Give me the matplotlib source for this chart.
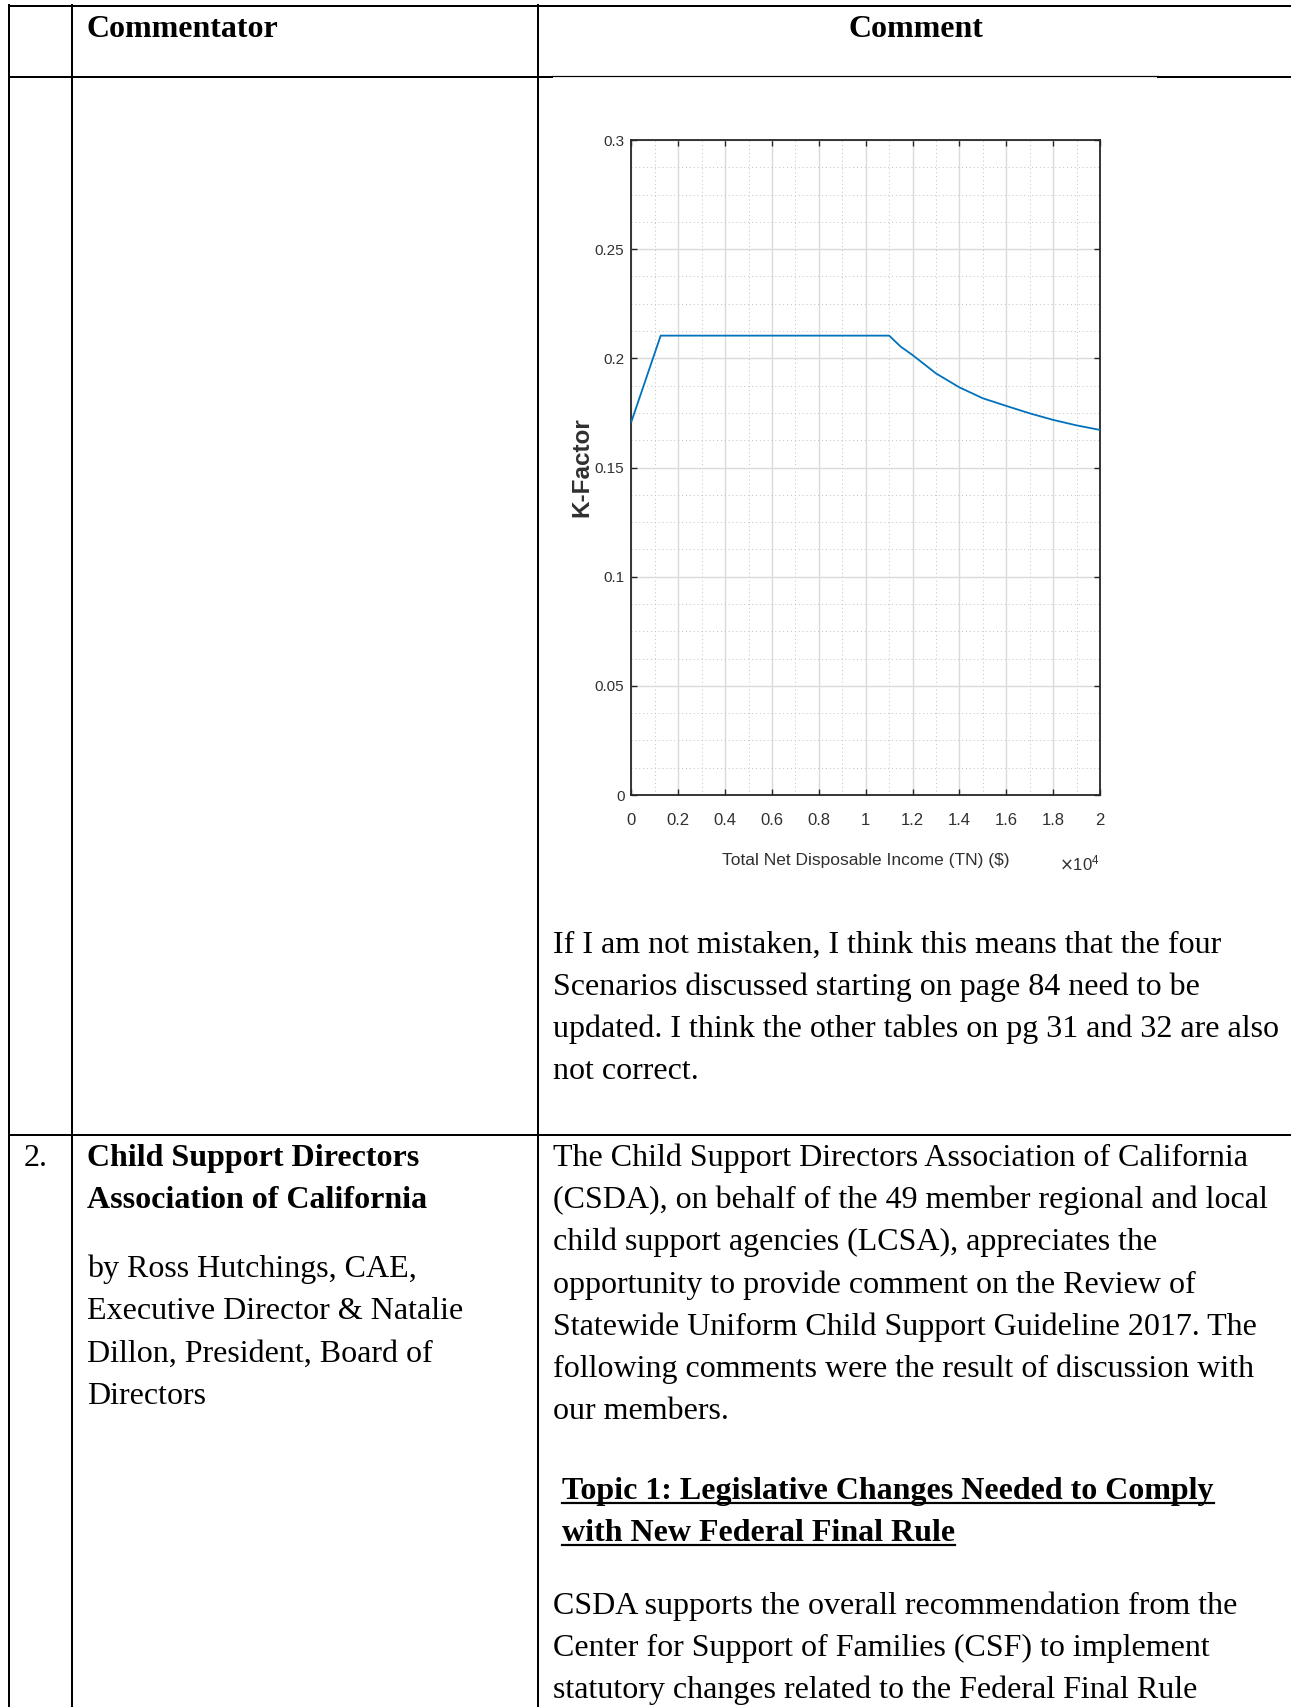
import numpy as np
import matplotlib.pyplot as plt
from matplotlib.ticker import MultipleLocator, FixedLocator, FixedFormatter

# ---- chart data (K-factor vs total net disposable income) ----
income = [0, 1250, 11000, 11500, 12000, 13000, 14000, 15000, 16000, 17000, 18000, 19000, 20000]
kfactor = [0.171, 0.2104, 0.2104, 0.2053, 0.2015, 0.1931, 0.1867, 0.1817, 0.1782, 0.1748, 0.1718, 0.1693, 0.1672]
xticks = [0, 2000, 4000, 6000, 8000, 10000, 12000, 14000, 16000, 18000, 20000]
xticklabels = ['0', '0.2', '0.4', '0.6', '0.8', '1', '1.2', '1.4', '1.6', '1.8', '2']
yticks = [0, 0.05, 0.1, 0.15, 0.2, 0.25, 0.3]
yticklabels = ['0', '0.05', '0.1', '0.15', '0.2', '0.25', '0.3']

# ---- document text ----
header_left = 'Commentator'
header_right = 'Comment'
para1 = ['If I am not mistaken, I think this means that the four',
         'Scenarios discussed starting on page 84 need to be',
         'updated. I think the other tables on pg 31 and 32 are also',
         'not correct.']
row_num = '2.'
org_lines = ['Child Support Directors', 'Association of California']
by_lines = ['by Ross Hutchings, CAE,', 'Executive Director & Natalie',
            'Dillon, President, Board of', 'Directors']
para2 = ['The Child Support Directors Association of California',
         '(CSDA), on behalf of the 49 member regional and local',
         'child support agencies (LCSA), appreciates the',
         'opportunity to provide comment on the Review of',
         'Statewide Uniform Child Support Guideline 2017. The',
         'following comments were the result of discussion with',
         'our members.']
topic_lines = ['Topic 1: Legislative Changes Needed to Comply',
               'with New Federal Final Rule']
para3 = ['CSDA supports the overall recommendation from the',
         'Center for Support of Families (CSF) to implement',
         'statutory changes related to the Federal Final Rule']

W, H = 1291, 1707
fig = plt.figure(figsize=(W / 100, H / 100), dpi=100)
fig.patch.set_facecolor('white')

# page layer in pixel coordinates
pg = fig.add_axes([0, 0, 1, 1])
pg.set_xlim(0, W)
pg.set_ylim(H, 0)
pg.axis('off')

serif = 'Liberation Serif'
fs = 23
thick = 2.0 * 0.72
thin = 1.2 * 0.72

# table rules
pg.plot([9, W], [6, 6], color='black', lw=thick)
pg.plot([9, 552], [77, 77], color='black', lw=thick)
pg.plot([552, 1158], [76, 76], color='black', lw=thin)
pg.plot([1158, W], [77, 77], color='black', lw=thick)
pg.plot([9, W], [1135, 1135], color='black', lw=thick)
for xv in [9, 72, 538]:
    pg.plot([xv, xv], [5, H], color='black', lw=thick)

# header
pg.text(87, 37, header_left, family=serif, fontsize=fs, fontweight='bold', va='baseline')
pg.text(849, 37, header_right, family=serif, fontsize=fs, fontweight='bold', va='baseline')

# row 1 text under the chart
for i, s in enumerate(para1):
    pg.text(553, 953 + 42 * i, s, family=serif, fontsize=fs, va='baseline')

# row 2, left
pg.text(24, 1166, row_num, family=serif, fontsize=fs, va='baseline')
for i, s in enumerate(org_lines):
    pg.text(87, 1166 + 42.2 * i, s, family=serif, fontsize=fs, fontweight='bold', va='baseline')
for i, s in enumerate(by_lines):
    pg.text(87, 1277 + 42.2 * i, s, family=serif, fontsize=fs, va='baseline')

# row 2, right
for i, s in enumerate(para2):
    pg.text(553, 1166 + 42.2 * i, s, family=serif, fontsize=fs, va='baseline')
topic_txt = []
for i, s in enumerate(topic_lines):
    t = pg.text(562, 1499 + 42 * i, s, family=serif, fontsize=fs, fontweight='bold', va='baseline')
    topic_txt.append((t, 1499 + 42 * i))
for i, s in enumerate(para3):
    pg.text(553, 1614 + 42 * i, s, family=serif, fontsize=fs, va='baseline')

# ---- the embedded chart ----
ax = fig.add_axes([631.4 / W, 1 - 795 / H, 468.6 / W, 655 / H])
ax.set_facecolor('white')
ax.plot(income, kfactor, color='#0072BD', lw=1.3, zorder=3)
ax.set_xlim(0, 20000)
ax.set_ylim(0, 0.3)

sans = 'Liberation Sans'
ax.xaxis.set_major_locator(FixedLocator(xticks))
ax.xaxis.set_major_formatter(FixedFormatter(xticklabels))
ax.yaxis.set_major_locator(FixedLocator(yticks))
ax.yaxis.set_major_formatter(FixedFormatter(yticklabels))
ax.xaxis.set_minor_locator(MultipleLocator(1000))
ax.yaxis.set_minor_locator(MultipleLocator(0.0125))

ax.grid(which='major', color='#dadada', lw=1.0, ls='-')
ax.grid(which='minor', color='#c0c0c0', lw=0.7, ls=(0, (1, 3)))
ax.set_axisbelow(True)

ax.tick_params(which='major', direction='in', length=4, width=1.0, color='#262626',
               top=True, right=True, labelcolor='#303030', labelsize=12)
ax.tick_params(which='minor', length=0, top=True, right=True)
ax.tick_params(axis='x', pad=13)
ax.tick_params(axis='y', pad=5, labelsize=11)
for lab in ax.get_xticklabels() + ax.get_yticklabels():
    lab.set_family(sans)
for sp in ax.spines.values():
    sp.set_color('#262626')
    sp.set_linewidth(1.3)

ax.set_xlabel('Total Net Disposable Income (TN) ($)', family=sans, fontsize=12.5, color='#303030')
ax.xaxis.set_label_coords(0.5, -0.088)
ax.set_ylabel('K-Factor', family=sans, fontsize=17.5, fontweight='bold',
              color='#303030', va='center')
ax.yaxis.set_label_coords(-0.106, 0.5)
ax.text(1.0, -0.104, r'$\times\mathregular{10^{4}}$', transform=ax.transAxes,
        ha='right', va='center', family=sans, fontsize=12, color='#303030')

# underline the topic heading to the width of its text
fig.canvas.draw()
for t, yb in topic_txt:
    bb = t.get_window_extent()
    pg.plot([bb.x0, bb.x1], [yb + 4, yb + 4], color='black', lw=2.2 * 0.72)

fig.savefig('out.png', dpi=100, facecolor='white')
